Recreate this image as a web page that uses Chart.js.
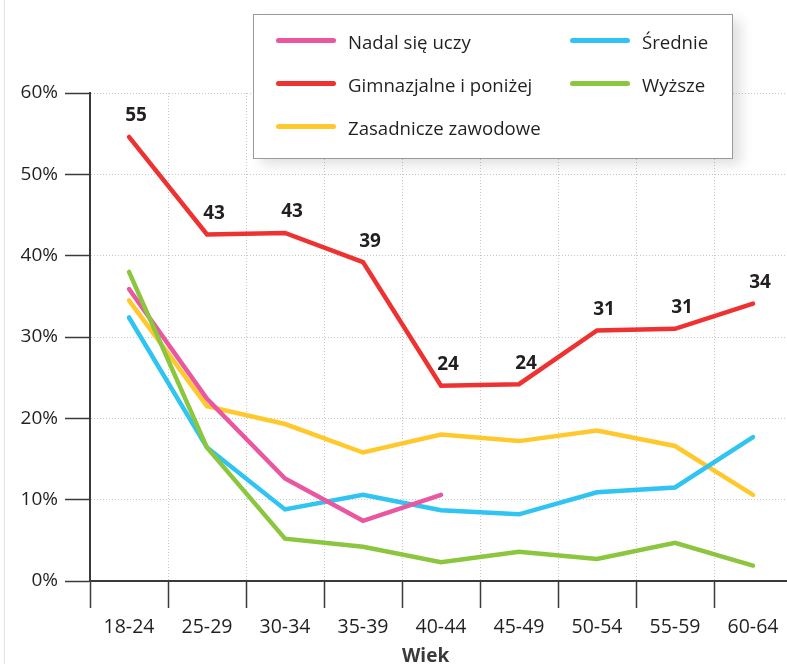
<!DOCTYPE html>
<html>
<head>
<meta charset="utf-8">
<script src="https://cdn.jsdelivr.net/npm/chart.js@4/dist/chart.umd.min.js"></script>
<style>
  html, body { margin: 0; padding: 0; background: #fff; overflow: hidden; }
  #wrap { position: relative; width: 787px; height: 664px; overflow: hidden; font-family: "Open Sans", sans-serif; color: #231f20; }
  #chartCanvas { position: absolute; left: 0; top: 0; }
  #edge { position: absolute; left: 4px; top: 0; width: 1px; height: 664px; background: #e2e2e2; }
  #legend { position: absolute; left: 253px; top: 14px; width: 478px; height: 143px; border: 1px solid #9a9a9a; background: #fff;
            box-shadow: 8px 6px 12px rgba(0,0,0,0.12); }
  .item { position: absolute; font-size: 18.6px; line-height: 20px; }
  .item span { position: absolute; left: 0; top: 8px; width: 60px; height: 5px; border-radius: 3px; }
  .item b { position: absolute; left: 72px; top: 2px; font-weight: normal; white-space: nowrap; }
  #wiek { position: absolute; left: 402px; top: 642px; font-weight: bold; font-size: 19px; color: #3a3a3a; }
</style>
</head>
<body>
<div id="wrap">
  <div id="edge"></div>
  <canvas id="chartCanvas" width="792" height="664"></canvas>
  <div id="legend"></div>
  <div id="wiek">Wiek</div>
</div>
<script>
const AGES = ['18-24', '25-29', '30-34', '35-39', '40-44', '45-49', '50-54', '55-59', '60-64'];
const NADAL = [35.9, 22.4, 12.6, 7.4, 10.6, null, null, null, null]; // Nadal się uczy
const GIMN = [54.6, 42.6, 42.8, 39.2, 24.0, 24.2, 30.8, 31.0, 34.1]; // Gimnazjalne i poniżej
const GIMN_LABELS = ['55', '43', '43', '39', '24', '24', '31', '31', '34'];
const ZAS = [34.5, 21.5, 19.3, 15.8, 18.0, 17.2, 18.5, 16.6, 10.6]; // Zasadnicze zawodowe
const SRED = [32.4, 16.4, 8.8, 10.6, 8.7, 8.2, 10.9, 11.5, 17.7]; // Średnie
const WYZ = [38.0, 16.4, 5.2, 4.2, 2.3, 3.6, 2.7, 4.7, 1.9]; // Wyższe
const Y_TICKS = [0, 10, 20, 30, 40, 50, 60];

const series = [
    { label: 'Nadal się uczy', data: NADAL, color: '#e8579f', order: 2 },
    { label: 'Gimnazjalne i poniżej', data: GIMN, color: '#ee3231', order: 0 },
    { label: 'Zasadnicze zawodowe', data: ZAS, color: '#ffc92d', order: 4 },
    { label: 'Średnie', data: SRED, color: '#2fc4f1', order: 3 },
    { label: 'Wyższe', data: WYZ, color: '#8cc63f', order: 1 }
];

// legend (two columns, like the original)
const legendPos = [[22, 15], [22, 58], [22, 101], [316, 15], [316, 58]];
const legend = document.getElementById('legend');
series.forEach((s, i) => {
    const d = document.createElement('div');
    d.className = 'item';
    d.style.left = legendPos[i][0] + 'px';
    d.style.top = legendPos[i][1] + 'px';
    d.innerHTML = '<span style="background:' + s.color + '"></span><b>' + s.label + '</b>';
    legend.appendChild(d);
});

// numbers above the red line
const valueLabels = {
    id: 'valueLabels',
    afterDatasetsDraw(chart) {
        const meta = chart.getDatasetMeta(1);
        const ctx = chart.ctx;
        ctx.save();
        ctx.font = 'bold 19px "Open Sans"';
        ctx.fillStyle = '#231f20';
        ctx.textAlign = 'center';
        ctx.textBaseline = 'middle';
        meta.data.forEach((pt, i) => {
            ctx.fillText(GIMN_LABELS[i], pt.x + 7, pt.y - 21);
        });
        ctx.restore();
    }
};

const ctx = document.getElementById('chartCanvas').getContext('2d');
const myChart = new Chart(ctx, {
    type: 'line',
    data: {
        labels: AGES,
        datasets: series.map(s => ({
            label: s.label,
            data: s.data,
            borderColor: s.color,
            backgroundColor: s.color,
            borderWidth: 4.5,
            borderCapStyle: 'round',
            pointRadius: 0,
            tension: 0,
            spanGaps: false,
            order: s.order
        }))
    },
    options: {
        responsive: false,
        animation: false,
        layout: { padding: { top: 93, right: 0, left: 0, bottom: 0 } },
        plugins: { legend: { display: false }, tooltip: { enabled: false } },
        scales: {
            x: {
                offset: true,
                grid: { offset: true, color: '#c8c8c8', tickColor: '#3a3a3a', tickLength: 27, tickWidth: 1.5 },
                border: { color: '#3a3a3a', width: 2, dash: [1, 2] },
                ticks: { color: '#231f20', font: { family: 'Open Sans', size: 19.5 }, padding: 8, maxRotation: 0 },
                afterFit: s => { s.height = 83; }
            },
            y: {
                min: 0,
                max: 60,
                afterBuildTicks: s => { s.ticks = Y_TICKS.map(v => ({ value: v })); },
                grid: { color: '#c8c8c8', tickColor: '#3a3a3a', tickLength: 25, tickWidth: 1.5 },
                border: { color: '#3a3a3a', width: 2, dash: [1, 2] },
                ticks: { color: '#231f20', font: { family: 'Open Sans', size: 19 }, padding: 7, callback: v => v + '%' },
                afterFit: s => { s.width = 90; }
            }
        }
    },
    plugins: [valueLabels]
});
</script>
</body>
</html>
